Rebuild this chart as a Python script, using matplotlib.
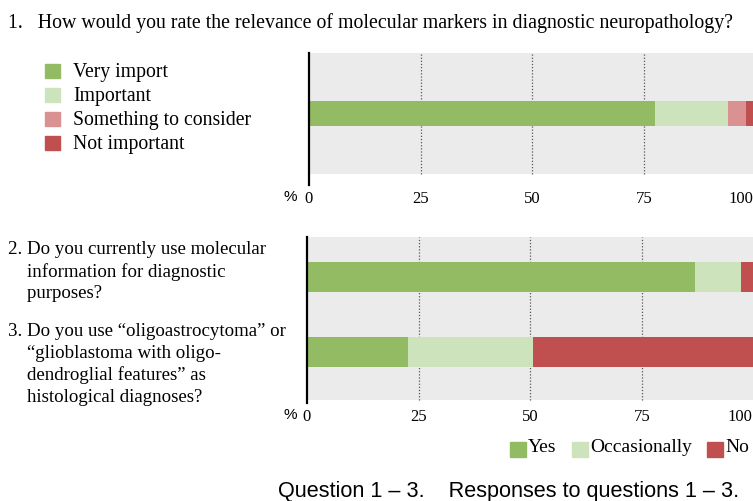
import matplotlib.pyplot as plt
from matplotlib.patches import Rectangle

# Question 1 data (percent)
q1_labels = ['Very import', 'Important', 'Something to consider', 'Not important']
q1_values = [77.4, 16.4, 4.0, 2.2]
q1_colors = ['#93bb63', '#cde3bb', '#d99192', '#c0504f']

# Questions 2 and 3 data (percent)
q23_labels = ['Yes', 'Occasionally', 'No']
q2_values = [86.7, 10.5, 2.8]
q3_values = [22.7, 27.9, 49.4]
q23_colors = ['#93bb63', '#cde3bb', '#c0504f']

ticks = [0, 25, 50, 75, 100]
tick_labels = ['0', '25', '50', '75', '100']

serif = 'Liberation Serif'
sans = 'Liberation Sans'
W, H = 753, 501

fig = plt.figure(figsize=(W / 100, H / 100), dpi=100)


def px_axes(left, top, right, bottom):
    return fig.add_axes([left / W, 1 - bottom / H, (right - left) / W, (bottom - top) / H])


def style_axes(ax, gray_frac, last_tick):
    ax.set_xlim(0, 100)
    ax.axvspan(0, 100, ymin=gray_frac, ymax=1, color='#ebebeb', zorder=0, lw=0)
    for x in [25, 50, 75, 100]:
        ax.axvline(x, ymin=gray_frac, ymax=1, color='#555555', ls=(0, (1, 1.5)), lw=0.9, zorder=1)
    for s in ['top', 'right', 'bottom']:
        ax.spines[s].set_visible(False)
    ax.spines['left'].set_linewidth(1.6)
    ax.spines['left'].set_color('black')
    ax.set_yticks([])
    # the last label sits flush against the right edge of the picture
    ax.set_xticks(ticks[:-1] + [last_tick])
    ax.set_xticklabels(tick_labels, fontfamily=serif, fontsize=12)
    ax.tick_params(axis='x', length=0, pad=4)
    ax.get_xticklabels()[-1].set_ha('right')
    ax.set_facecolor('none')


# Panel 1
ax1 = px_axes(308.7, 53, 756, 185)
style_axes(ax1, 11 / 132, 99.3)
left = 0
for v, c in zip(q1_values, q1_colors):
    ax1.barh(0, v, left=left, height=1, color=c, zorder=2, edgecolor='none')
    left += v
ax1.set_ylim(-2.86, 2.42)

# Panel 2
ax2 = px_axes(306.7, 237, 754, 403)
style_axes(ax2, 3 / 166, 99.7)
for ypos, vals in [(1, q2_values), (0, q3_values)]:
    left = 0
    for v, c in zip(vals, q23_colors):
        ax2.barh(ypos, v, left=left, height=0.39, color=c, zorder=2, edgecolor='none')
        left += v
ax2.set_ylim(-0.68, 1.533)

# Title
fig.text(8 / W, 1 - 23 / H, '1.   How would you rate the relevance of molecular markers in diagnostic neuropathology?',
         fontfamily=serif, fontsize=14.3, va='center', ha='left')

# Legend for question 1
for i, (lab, c) in enumerate(zip(q1_labels, q1_colors)):
    yc = 71 + i * 24
    fig.patches.append(Rectangle((45 / W, 1 - (yc + 7) / H), 15 / W, 14 / H, color=c,
                                 transform=fig.transFigure))
    fig.text(73 / W, 1 - (yc + 2) / H, lab, fontfamily=serif, fontsize=14.2, va='center', ha='left')

# % markers
fig.text(290 / W, 1 - 197 / H, '%', fontfamily=sans, fontsize=11, va='center', ha='center')
fig.text(290 / W, 1 - 415 / H, '%', fontfamily=sans, fontsize=11, va='center', ha='center')

# Question texts
q2_lines = ['2. Do you currently use molecular', '    information for diagnostic', '    purposes?']
q3_lines = ['3. Do you use \u201coligoastrocytoma\u201d or', '    \u201cglioblastoma with oligo-',
            '    dendroglial features\u201d as', '    histological diagnoses?']
for i, line in enumerate(q2_lines):
    fig.text(8 / W, 1 - (250 + i * 22) / H, line, fontfamily=serif, fontsize=13.6, va='center', ha='left')
for i, line in enumerate(q3_lines):
    fig.text(8 / W, 1 - (331 + i * 22) / H, line, fontfamily=serif, fontsize=13.6, va='center', ha='left')

# Legend for questions 2-3
for lab, c, sx in zip(q23_labels, q23_colors, [510, 572, 707]):
    fig.patches.append(Rectangle((sx / W, 1 - 457 / H), 16 / W, 15 / H, color=c,
                                 transform=fig.transFigure))
    fig.text((sx + 18) / W, 1 - 447 / H, lab, fontfamily=serif, fontsize=14, va='center', ha='left')

# Caption
fig.text(278 / W, 1 - 492 / H, 'Question 1 \u2013 3.    Responses to questions 1 \u2013 3.',
         fontfamily=sans, fontsize=15.6, va='center', ha='left')

fig.savefig('out.png', dpi=100)
